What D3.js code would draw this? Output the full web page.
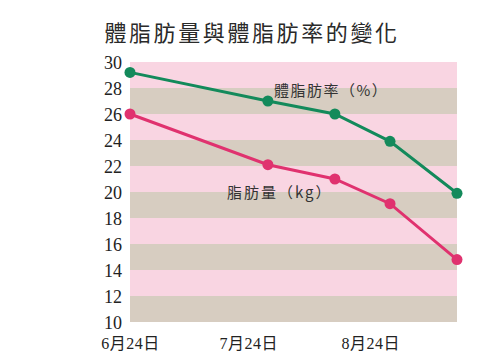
<!DOCTYPE html>
<html>
<head>
<meta charset="utf-8">
<script src="https://cdn.jsdelivr.net/npm/d3@7"></script>
<style>
  body { margin: 0; background: #fff; }
  svg { display: block; }
  .tick text { font-family: "Liberation Serif", "DejaVu Serif", "Noto Sans CJK TC", serif; }
</style>
</head>
<body>
<div id="chart"></div>
<script>
const title = "體脂肪量與體脂肪率的變化";

// measurement dates and values
const dates = ["2023-06-24", "2023-07-29", "2023-08-15", "2023-08-29", "2023-09-15"];
const fatRate = [29.2, 27.0, 26.0, 23.9, 19.9];   // 體脂肪率 (%)
const fatMass = [26.0, 22.1, 21.0, 19.1, 14.8];   // 脂肪量 (kg)

const xTicks = ["2023-06-24", "2023-07-24", "2023-08-24"];
const yTicks = [10, 12, 14, 16, 18, 20, 22, 24, 26, 28, 30];

const width = 500, height = 353;
const margin = {top: 62, right: 43, bottom: 31, left: 130};

const parse = d3.timeParse("%Y-%m-%d");

const svg = d3.select("#chart").append("svg")
  .attr("width", width)
  .attr("height", height);

const x = d3.scaleTime()
  .domain([parse(dates[0]), parse(dates[dates.length - 1])])
  .range([margin.left, width - margin.right]);

const y = d3.scaleLinear()
  .domain([10, 30])
  .range([height - margin.bottom, margin.top]);

// striped background, one band per 2 units
const bands = yTicks.slice(0, -1).map((v, i) => ({lo: v, hi: yTicks[i + 1], i: i}));
svg.append("g")
  .selectAll("rect")
  .data(bands)
  .join("rect")
  .attr("x", margin.left)
  .attr("width", width - margin.right - margin.left)
  .attr("y", d => y(d.hi))
  .attr("height", d => y(d.lo) - y(d.hi))
  .attr("fill", d => d.i % 2 == 0 ? "#d7cdc1" : "#f9d5e2");

// title
svg.append("text")
  .attr("x", 252)
  .attr("y", 41)
  .attr("text-anchor", "middle")
  .style("font-family", "'Noto Sans CJK TC', sans-serif")
  .attr("font-size", 22)
  .attr("letter-spacing", 2.6)
  .attr("fill", "#2a2a2a")
  .text(title);

// y axis
const yAxis = svg.append("g")
  .attr("transform", `translate(${margin.left - 8},0)`)
  .call(d3.axisLeft(y).tickValues(yTicks).tickSize(0).tickPadding(0));
yAxis.select(".domain").remove();
yAxis.selectAll("text")
  .attr("font-size", 18)
  .attr("dy", "0.36em")
  .attr("fill", "#222");

// x axis
const fmt = d3.timeFormat("%-m月%-d日");
const xAxis = svg.append("g")
  .attr("transform", `translate(0,${height - margin.bottom})`)
  .call(d3.axisBottom(x).tickValues(xTicks.map(parse)).tickFormat(fmt).tickSize(0).tickPadding(16));
xAxis.select(".domain").remove();
xAxis.selectAll("text")
  .attr("font-size", 16)
  .attr("letter-spacing", 0.5)
  .attr("fill", "#222");

const series = [
  {name: "rate", values: fatRate, color: "#138a5b"},
  {name: "mass", values: fatMass, color: "#e0326f"}
];

const line = d3.line()
  .x((d, i) => x(parse(dates[i])))
  .y(d => y(d));

series.forEach(s => {
  svg.append("path")
    .datum(s.values)
    .attr("fill", "none")
    .attr("stroke", s.color)
    .attr("stroke-width", 3)
    .attr("d", line);

  svg.append("g")
    .selectAll("circle")
    .data(s.values)
    .join("circle")
    .attr("cx", (d, i) => x(parse(dates[i])))
    .attr("cy", d => y(d))
    .attr("r", 5.5)
    .attr("fill", s.color);
});

// series labels
svg.append("text")
  .attr("x", 274)
  .attr("y", 96)
  .style("font-family", "'Noto Sans CJK TC', sans-serif")
  .attr("font-size", 15)
  .attr("letter-spacing", 1.5)
  .attr("fill", "#333")
  .text("體脂肪率（%）");

svg.append("text")
  .attr("x", 227)
  .attr("y", 198)
  .style("font-family", "'Noto Sans CJK TC', sans-serif")
  .attr("font-size", 15)
  .attr("letter-spacing", 2)
  .attr("fill", "#333")
  .text("脂肪量（kg）");
</script>
</body>
</html>
